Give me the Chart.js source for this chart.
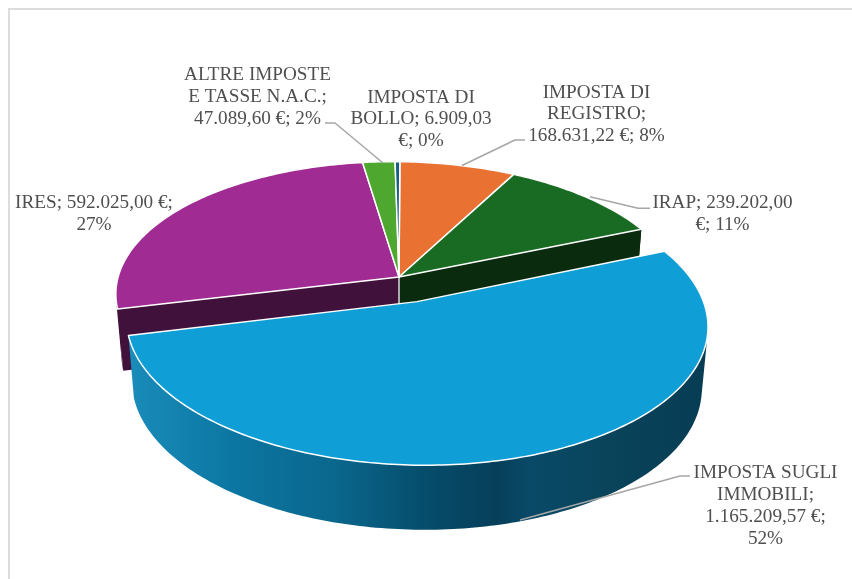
<!DOCTYPE html>
<html><head><meta charset="utf-8">
<style>html,body{margin:0;padding:0;background:#fff}canvas{display:block;filter:blur(.3px)}</style>
<script src="https://cdn.jsdelivr.net/npm/chart.js@4/dist/chart.umd.min.js"></script>
</head><body><canvas id="c" width="852" height="579"></canvas>
<script>
const categories = ["IMPOSTA DI REGISTRO","IRAP","IMPOSTA SUGLI IMMOBILI","IRES","ALTRE IMPOSTE E TASSE N.A.C.","IMPOSTA DI BOLLO"];
const values = [168631.22,239202.00,1165209.57,592025.00,47089.60,6909.03];
const colours = ["#E97132","#196B24","#0F9ED5","#A02B93","#4EA72E","#156082"];
const wallColours = ["#5d2d14","#0A2B0E","#06405a","#40113B","#1f4312","#082734"];
const explodeOffsets = [0,0,55.3,0,0,0];
const labelLines = [
 ["IMPOSTA DI","REGISTRO;","168.631,22 €; 8%"],
 ["IRAP; 239.202,00","€; 11%"],
 ["IMPOSTA SUGLI","IMMOBILI;","1.165.209,57 €;","52%"],
 ["IRES; 592.025,00 €;","27%"],
 ["ALTRE IMPOSTE","E TASSE N.A.C.;","47.089,60 €; 2%"],
 ["IMPOSTA DI","BOLLO; 6.909,03","€; 0%"]
];
const labelCentres = [[596.5,97.5],[722.5,208.3],[765.5,478.3],[94,208],[257.5,80],[421,102.5]];
const leaders = [
 [[525,140],[515,140],[462,165.5]],
 [[650,208.3],[638,208.3],[590,196.7]],
 [[690,476],[680,476],[520,520]],
 null,
 [[325,123],[335,123],[383,163]],
 null
];
const P = {x0:399,y0:277,A:280,B:-1,C:3,D:132,G:0,H:-.145,narrow:.98,wall:61,wallNear:3};
function proj(u,v){
  const w=1+P.G*u+P.H*v;
  return [P.x0+(P.A*u+P.B*v)/w, P.y0+(P.C*u+P.D*v)/w];
}
function low(p,v){return [P.x0+(p[0]-P.x0)*P.narrow, p[1]+P.wall+P.wallNear*v];}
function arcPts(el,ou,ov){
  const n=Math.max(2,Math.ceil((el.endAngle-el.startAngle)*60)),pts=[];
  for(let i=0;i<=n;i++){
    const a=el.startAngle+(el.endAngle-el.startAngle)*i/n;
    const v=Math.sin(a)+ov;
    const p=proj(Math.cos(a)+ou,v);
    pts.push({t:p,b:low(p,v)});
  }
  return pts;
}
function poly(ctx,list){ctx.beginPath();list.forEach((p,i)=>i?ctx.lineTo(p[0],p[1]):ctx.moveTo(p[0],p[1]));ctx.closePath();}
function area(q){let s=0;q.forEach((p,i)=>{const r=q[(i+1)%q.length];s+=p[0]*r[1]-r[0]*p[1];});return s;}
const pie3d={id:'pie3d',
 beforeDraw(chart){
  const c=chart.ctx;c.save();c.fillStyle='#fff';c.fillRect(0,0,852,579);
  c.strokeStyle='#dcdcdc';c.lineWidth=2;c.beginPath();c.moveTo(9,579);c.lineTo(9,9);c.lineTo(852,9);c.stroke();c.restore();
 },
 beforeDatasetDraw(chart,args){
  const c=chart.ctx,meta=args.meta,els=meta.data,ex=chart.data.datasets[0].offset;
  const info=els.map((el,i)=>{
    const f=(ex[i]||0)/(chart.height/2),mid=(el.startAngle+el.endAngle)/2;
    const ou=Math.cos(mid)*f,ov=Math.sin(mid)*f;
    return {el,i,ou,ov,apex:proj(ou,ov),pts:arcPts(el,ou,ov),exploded:f>0};
  });
  c.save();
  // the wall is the area swept between the upper and lower rim, one quad per step
  const wall=(s,fill)=>{
    c.beginPath();
    for(let i=0;i<s.pts.length-1;i++){
      let q=[s.pts[i].t,s.pts[i+1].t,s.pts[i+1].b,s.pts[i].b];
      if(area(q)<0) q=q.reverse();
      q.forEach((p,j)=>j?c.lineTo(p[0],p[1]):c.moveTo(p[0],p[1]));
      c.closePath();
    }
    c.fillStyle=fill;c.fill('nonzero');
  };
  const top=(s)=>{
    poly(c,[s.apex].concat(s.pts.map(q=>q.t)));
    c.fillStyle=colours[s.i];c.fill();
    c.strokeStyle='#fff';c.lineWidth=1.5;c.lineJoin='round';c.stroke();
  };
  info.filter(s=>!s.exploded).forEach(s=>wall(s,wallColours[s.i]));
  info.forEach((s,k)=>{
    if(s.exploded) return;
    const next=info[(k+1)%info.length],prev=info[(k-1+info.length)%info.length];
    const lowApex=low(s.apex,0);
    if(next.exploded){const e=s.pts[s.pts.length-1];poly(c,[s.apex,e.t,e.b,lowApex]);c.fillStyle=wallColours[s.i];c.fill();}
    if(prev.exploded){const e=s.pts[0];poly(c,[s.apex,e.t,e.b,lowApex]);c.fillStyle=wallColours[s.i];c.fill();}
  });
  const a0=info[0].apex;
  c.strokeStyle='#d8d8d8';c.lineWidth=1.5;c.beginPath();c.moveTo(a0[0],a0[1]);c.lineTo(a0[0],a0[1]+P.wall);c.stroke();
  info.filter(s=>!s.exploded).forEach(top);
  info.filter(s=>s.exploded).forEach(s=>{
    const g=c.createLinearGradient(125,0,705,0);
    [[0,'#1a8dbb'],[.18,'#0c77a3'],[.36,'#0a678d'],[.52,'#064c6b'],[.64,'#063f5a'],[.7,'#094a68'],[.85,'#094359'],[1,'#073d54']].forEach(x=>g.addColorStop(x[0],x[1]));
    wall(s,g);top(s);
  });
  c.restore();
  return false;
 },
 afterDraw(chart){
  const c=chart.ctx;c.save();
  c.strokeStyle='#a6a6a6';c.lineWidth=1.5;c.lineJoin='round';
  leaders.forEach(l=>{if(!l)return;c.beginPath();l.forEach((p,i)=>i?c.lineTo(p[0],p[1]):c.moveTo(p[0],p[1]));c.stroke();});
  c.fillStyle='#4f4f4f';c.font='19.2px "Liberation Serif"';c.textAlign='center';c.textBaseline='alphabetic';
  labelLines.forEach((ls,i)=>ls.forEach((t,j)=>c.fillText(t,labelCentres[i][0],labelCentres[i][1]+j*21.9)));
  c.restore();
 }
};
new Chart(document.getElementById('c'),{
 type:'pie',
 data:{labels:categories,datasets:[{data:values,backgroundColor:colours,offset:explodeOffsets}]},
 options:{responsive:false,animation:false,rotation:0,plugins:{legend:{display:false},tooltip:{enabled:false}}},
 plugins:[pie3d]
});
</script></body></html>
